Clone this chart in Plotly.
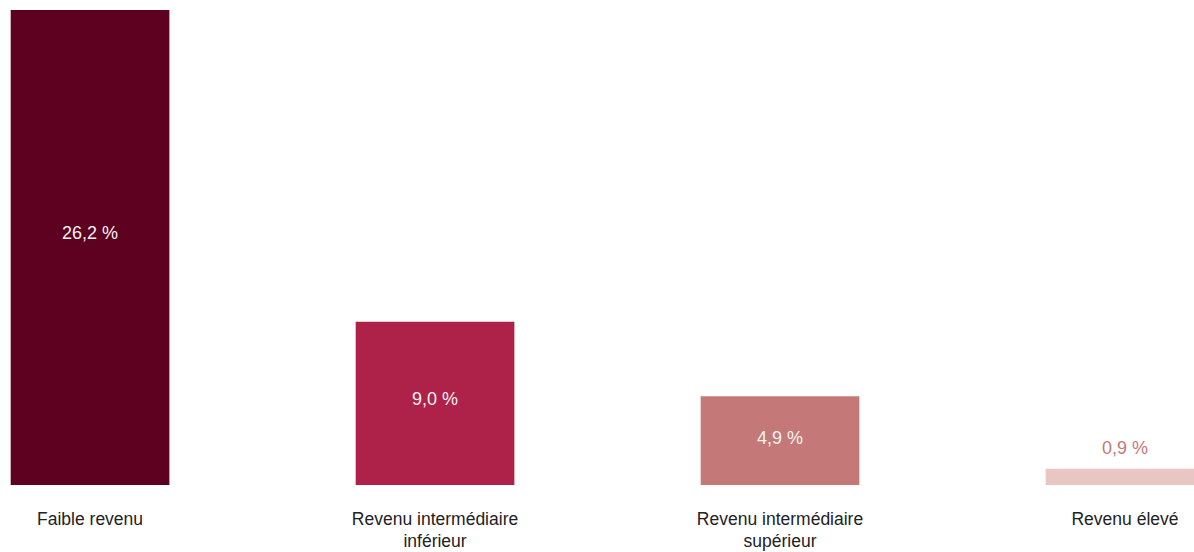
import plotly.graph_objects as go

# Part de la population par groupe de revenu
categories = [
    "Faible revenu",
    "Revenu intermédiaire<br>inférieur",
    "Revenu intermédiaire<br>supérieur",
    "Revenu élevé",
]
values = [26.2, 9.0, 4.9, 0.9]
bar_colors = ["#5e001f", "#ae2148", "#c47878", "#e7c6c3"]
label_colors = ["#f4f4f4", "#f4f4f4", "#f4f4f4", "#c47878"]
label_inside = [True, True, True, False]

FONT = "Liberation Sans, Arial, sans-serif"

fig = go.Figure(
    go.Bar(
        x=categories,
        y=values,
        marker=dict(color=bar_colors, line=dict(width=0)),
        hoverinfo="skip",
    )
)

# Value labels: centred in the bar, or just above it for the short bar
for cat, val, col, inside in zip(categories, values, label_colors, label_inside):
    text = f"{val:.1f}".replace(".", ",") + " %"
    if inside:
        fig.add_annotation(
            x=cat, y=val * 0.53, xref="x", yref="y", text=text,
            showarrow=False, yanchor="middle",
            font=dict(size=18, color=col, family=FONT),
        )
    else:
        fig.add_annotation(
            x=cat, y=val, xref="x", yref="y", text=text,
            showarrow=False, yanchor="bottom", yshift=9,
            font=dict(size=18, color=col, family=FONT),
        )

fig.update_layout(
    bargap=0.54,
    plot_bgcolor="white",
    paper_bgcolor="white",
    showlegend=False,
    margin=dict(l=0, r=0, t=10, b=67),
    font=dict(family=FONT, size=17.5, color="#222222"),
)
fig.update_xaxes(
    type="category",
    range=[-0.261, 3.2],
    showgrid=False,
    showline=False,
    zeroline=False,
    ticks="",
    ticklabelstandoff=21,
    tickfont=dict(size=17.5, color="#222222", family=FONT),
)
fig.update_yaxes(
    range=[0, 26.2],
    visible=False,
    showgrid=False,
    zeroline=False,
)

fig.write_html("out.html")
